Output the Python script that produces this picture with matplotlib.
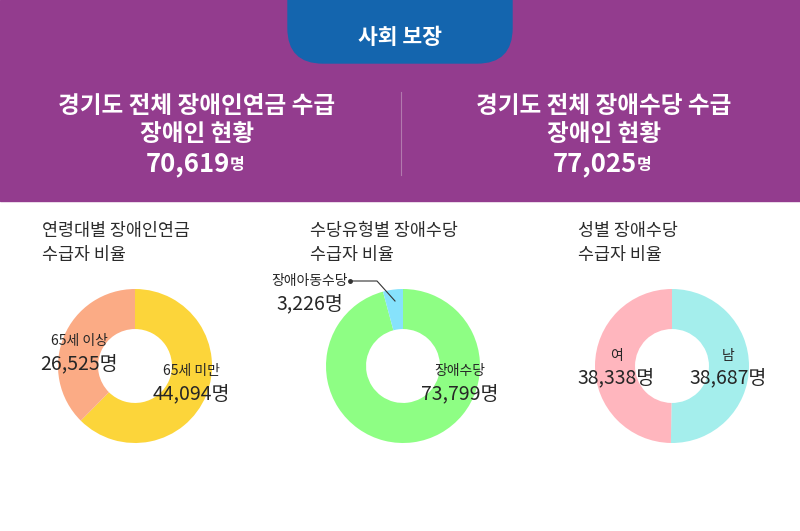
import matplotlib.pyplot as plt
from matplotlib.patches import Rectangle, FancyBboxPatch

plt.rcParams['font.family'] = ['Noto Sans CJK KR', 'DejaVu Sans']

# 데이터
header_titles = ['경기도 전체 장애인연금 수급\n장애인 현황', '경기도 전체 장애수당 수급\n장애인 현황']
header_totals = [70619, 77025]

chart_titles = ['연령대별 장애인연금\n수급자 비율', '수당유형별 장애수당\n수급자 비율', '성별 장애수당\n수급자 비율']

age_labels = ['65세 미만', '65세 이상']
age_values = [44094, 26525]
type_labels = ['장애수당', '장애아동수당']
type_values = [73799, 3226]
sex_labels = ['남', '여']
sex_values = [38687, 38338]

W, H = 800, 531
purple = '#933C8E'
blue = '#1465AE'
dark = '#262626'

fig = plt.figure(figsize=(W / 100, H / 100), dpi=100)
bg = fig.add_axes([0, 0, 1, 1])
bg.set_xlim(0, W)
bg.set_ylim(H, 0)
bg.axis('off')

# 상단 배너
bg.add_patch(Rectangle((0, 0), W, 201, color=purple, zorder=0))
bg.add_patch(FancyBboxPatch((288 + 35, -80 + 35), 224 - 70, 143 - 70,
                            boxstyle='round,pad=35', color=blue, zorder=1))
bg.text(400, 38, '사회 보장', color='white', fontsize=15.5, fontweight='bold',
        ha='center', va='center', zorder=2)
bg.plot([400.5, 400.5], [92, 175], color='#B27AAE', lw=0.8, zorder=1)

for cx, title, total in zip([197, 604], header_titles, header_totals):
    bg.text(cx, 120, title, color='white', fontsize=17, fontweight='bold',
            ha='center', va='center', linespacing=1.22, zorder=2)
    t = bg.text(cx - 9, 164, f'{total:,}', color='white', fontsize=18.5,
                fontweight='bold', ha='center', va='center', zorder=2)
    bg.annotate('명', xy=(1, 0.18), xycoords=t, color='white', fontsize=11.5,
                fontweight='bold', ha='left', va='bottom', zorder=2)


def donut(cx, cy, r, values, colors):
    ax = fig.add_axes([(cx - r) / W, (H - cy - r) / H, 2 * r / W, 2 * r / H])
    ax.pie(values, colors=colors, startangle=90, counterclock=False,
           wedgeprops=dict(width=0.52, linewidth=0))
    ax.set_xlim(-1, 1)
    ax.set_ylim(-1, 1)
    ax.axis('off')
    return ax


donut(135, 366, 77, age_values, ['#FCD53A', '#FBAB85'])
donut(403, 366, 77, type_values, ['#8EFE84', '#86E2FC'])
donut(672, 366, 77, sex_values, ['#A4EEEC', '#FFB6BE'])

# 텍스트 오버레이
ov = fig.add_axes([0, 0, 1, 1])
ov.set_xlim(0, W)
ov.set_ylim(H, 0)
ov.axis('off')
ov.patch.set_alpha(0)

for x, title in zip([42, 310, 578], chart_titles):
    ov.text(x, 243, title, color='#2B2B2B', fontsize=12.5, fontweight='medium',
            ha='left', va='center', linespacing=1.4)


def label(x, y1, y2, name, value):
    ov.text(x, y1, name, color=dark, fontsize=10, ha='center', va='center')
    ov.text(x, y2, f'{value:,}명', color=dark, fontsize=14, ha='center', va='center')


label(191, 371, 394, age_labels[0], age_values[0])
label(79, 341, 364, age_labels[1], age_values[1])
label(460, 371, 394, type_labels[0], type_values[0])
label(310, 281, 304, type_labels[1], type_values[1])
label(728, 356, 378, sex_labels[0], sex_values[0])
label(616, 356, 378, sex_labels[1], sex_values[1])

ov.plot([350, 377, 395], [281, 281, 301], color='#333333', lw=0.8)
ov.plot([350], [281], 'o', color='#333333', ms=2.5)

fig.savefig('out.png', dpi=100)
